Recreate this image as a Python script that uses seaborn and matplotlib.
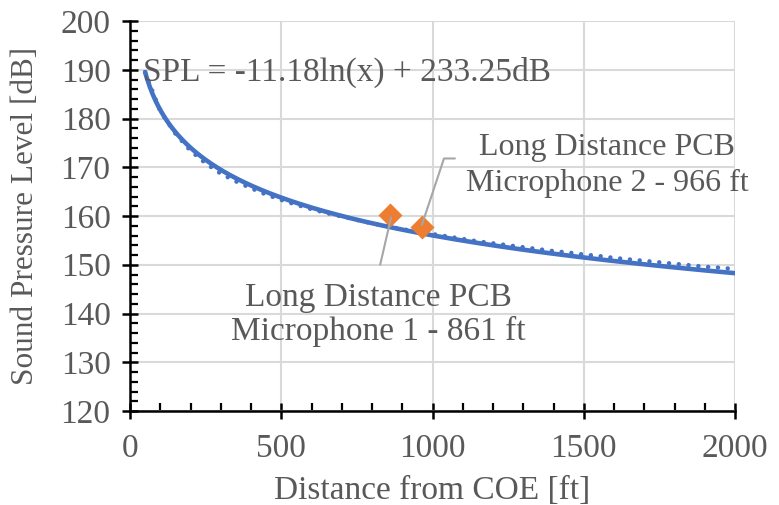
import numpy as np
import pandas as pd
import matplotlib
matplotlib.use("Agg")
import matplotlib.pyplot as plt
import seaborn as sns
from matplotlib.ticker import MultipleLocator

# ---- data ----
distance_ft = [50, 100, 150, 200, 250, 300, 350, 400, 450, 500, 550, 600, 650, 700,
               750, 800, 850, 900, 950, 1000, 1050, 1100, 1150, 1200, 1250, 1300,
               1350, 1400, 1450, 1500, 1550, 1600, 1650, 1700, 1750, 1800, 1850,
               1900, 1950, 2000]
spl_db = [189.5, 181.5, 176.9, 173.4, 170.8, 168.7, 167.1, 165.7, 164.4, 163.3,
          162.3, 161.4, 160.6, 159.9, 159.2, 158.5, 157.9, 157.3, 156.8, 156.3,
          155.8, 155.3, 154.8, 154.4, 154.0, 153.6, 153.2, 152.8, 152.5, 152.1,
          151.8, 151.4, 151.1, 150.8, 150.5, 150.2, 149.9, 149.6, 149.4, 149.1]
fit_slope = -11.18
fit_intercept = 233.25
mic_distance_ft = [861, 966]
mic_spl_db = [160.3, 157.8]
mic_labels = ["Long Distance PCB\nMicrophone 1 - 861 ft",
              "Long Distance PCB\nMicrophone 2 - 966 ft"]
equation_label = "SPL = -11.18ln(x) + 233.25dB"
x_label = "Distance from COE [ft]"
y_label = "Sound Pressure Level [dB]"

sns.set_theme(style="white")
plt.rcParams['font.family'] = ['Liberation Serif', 'DejaVu Serif']

TXT = "#595959"
BLUE = "#4472C4"
ORANGE = "#ED7D31"
LEAD = "#A6A6A6"
FS = 24

fig = plt.figure(figsize=(7.79, 5.05), dpi=100)
ax = fig.add_axes([130/779, 1-411/505, (735-130)/779, (411-21)/505])

df = pd.DataFrame({"x": distance_ft, "y": spl_db})
fit_x = np.linspace(min(distance_ft), max(distance_ft), 400)
df_fit = pd.DataFrame({"x": fit_x, "y": fit_intercept + fit_slope*np.log(fit_x)})
df_mic = pd.DataFrame({"x": mic_distance_ft, "y": mic_spl_db})

sns.lineplot(data=df, x="x", y="y", ax=ax, color=BLUE, lw=3.2, zorder=3)
ax.lines[-1].set_linestyle((0, (0.01, 2.2)))
ax.lines[-1].set_dash_capstyle("round")
sns.lineplot(data=df_fit, x="x", y="y", ax=ax, color=BLUE, lw=3.3, zorder=4)
sns.scatterplot(data=df_mic, x="x", y="y", ax=ax, marker="D", s=150,
                color=ORANGE, edgecolor=ORANGE, linewidth=0, zorder=5)

ax.set_xlim(0, 2000)
ax.set_ylim(120, 200)
ax.xaxis.set_major_locator(MultipleLocator(500))
ax.xaxis.set_minor_locator(MultipleLocator(100))
ax.yaxis.set_major_locator(MultipleLocator(10))
ax.yaxis.set_minor_locator(MultipleLocator(2))
ax.grid(True, which="major", color="#D9D9D9", lw=1.5, zorder=0)
ax.grid(False, which="minor")
ax.set_axisbelow(True)
for s in ["top", "right"]:
    ax.spines[s].set_visible(False)
for s in ["left", "bottom"]:
    ax.spines[s].set_color("black")
    ax.spines[s].set_linewidth(1.8)
ax.tick_params(which="both", bottom=True, left=True, top=False, right=False)
ax.tick_params(which="major", direction="inout", length=12, width=1.8,
               color="black", labelsize=FS, labelcolor=TXT)
ax.tick_params(which="minor", direction="in", length=5.5, width=1.6, color="black")
ax.tick_params(axis="x", which="major", pad=10)
ax.tick_params(axis="y", which="major", pad=8)
ax.set_xlabel(x_label, fontsize=FS, color=TXT)
ax.set_ylabel(y_label, fontsize=22.5, color=TXT)
ax.xaxis.set_label_coords(0.5, -0.165)
ax.yaxis.set_label_coords(-0.148, 0.5)

ax.text(43, 189.5, equation_label, fontsize=FS, color=TXT, va="center",
        ha="left", zorder=6)

# annotation 1
ax.text(820, 139.7, mic_labels[0], ha="center", va="center", fontsize=FS,
        color=TXT, linespacing=1.1, zorder=6)
ax.plot([827, 863], [150.0, 159.7], color=LEAD, lw=1.5, zorder=6)
# annotation 2
ax.text(1577, 170.4, mic_labels[1], ha="center", va="center", fontsize=23,
        color=TXT, linespacing=1.32, zorder=6)
ax.plot([965, 1038, 1074], [158.2, 171.8, 171.8], color=LEAD, lw=1.5, zorder=6)

fig.savefig("out.png", dpi=100)
